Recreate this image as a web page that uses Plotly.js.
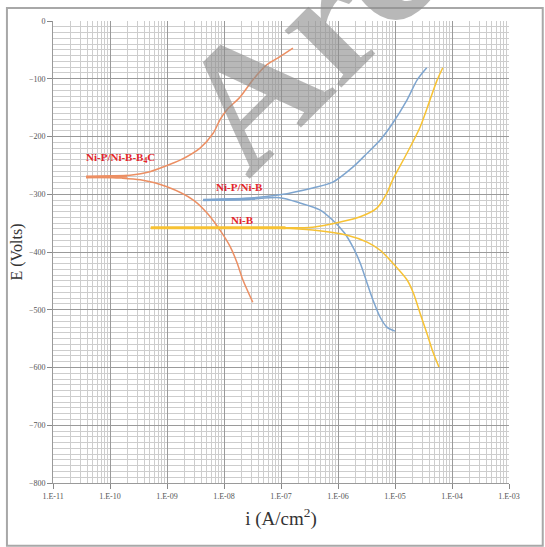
<!DOCTYPE html>
<html>
<head>
<meta charset="utf-8">
<script src="https://cdn.plot.ly/plotly-3.0.1.min.js"></script>
<style>html,body{margin:0;padding:0;background:#fff;}#chart{width:545px;height:547px;}</style>
</head>
<body>
<div id="chart"></div>
<script>
// ---- data (current in A/cm2, potential in mV) ----
const xTickVals = [1e-11, 1e-10, 1e-9, 1e-8, 1e-7, 1e-6, 1e-5, 1e-4, 1e-3];
const xTickText = ['1.E-11', '1.E-10', '1.E-09', '1.E-08', '1.E-07', '1.E-06', '1.E-05', '1.E-04', '1.E-03'];
const yTickVals = [0, -100, -200, -300, -400, -500, -600, -700, -800];

// Ni-P/Ni-B-B4C (orange)
const b4cRestI = [3.8e-11, 2.0e-10];
const b4cRestE = [-270, -269];
const b4cAnodI = [3.8e-11, 2.24e-10, 5.0e-10, 1.29e-9, 1.7e-9, 3.8e-9, 6.5e-9, 8.5e-9, 1.12e-8, 1.9e-8, 3.2e-8, 5.6e-8, 9.5e-8, 1.62e-7];
const b4cAnodE = [-270, -267, -261, -246, -241, -220, -194, -171, -154, -132, -102, -76, -62, -47];
const b4cCathI = [3.8e-11, 1.6e-10, 3.4e-10, 1.0e-9, 2.9e-9, 5.0e-9, 8.5e-9, 1.29e-8, 1.7e-8, 2.14e-8, 3.2e-8];
const b4cCathE = [-270, -272, -275, -287, -310, -332, -362, -391, -419, -448, -487];

// Ni-P/Ni-B (blue)
const npbRestI = [4.3e-9, 3.5e-8];
const npbRestE = [-310, -308];
const npbAnodI = [4.3e-9, 2.5e-8, 9.5e-8, 3.6e-7, 8.1e-7, 1.82e-6, 3.24e-6, 5.5e-6, 9.1e-6, 1.62e-5, 2.45e-5, 3.6e-5];
const npbAnodE = [-310, -307, -301, -289, -279, -253, -229, -206, -177, -137, -102, -81];
const npbCathI = [4.3e-9, 2.5e-8, 9.5e-8, 2.14e-7, 4.8e-7, 8.1e-7, 1.3e-6, 1.82e-6, 2.45e-6, 3.24e-6, 4.1e-6, 5.5e-6, 7.2e-6, 1.0e-5];
const npbCathE = [-310, -309, -306, -315, -327, -345, -367, -391, -419, -454, -483, -513, -530, -537];

// Ni-B (yellow)
const nbRestI = [5.2e-10, 1.2e-7];
const nbRestE = [-358, -358];
const nbAnodI = [5.2e-10, 9.5e-8, 3.6e-7, 1.1e-6, 2.45e-6, 4.8e-6, 7.2e-6, 9.1e-6, 1.62e-5, 2.75e-5, 4.1e-5, 5.5e-5, 6.9e-5];
const nbAnodE = [-358, -358, -357, -348, -339, -324, -298, -275, -229, -184, -137, -102, -81];
const nbCathI = [5.2e-10, 9.5e-8, 3.6e-7, 1.45e-6, 3.24e-6, 5.5e-6, 9.1e-6, 1.62e-5, 2.1e-5, 2.75e-5, 3.6e-5, 4.7e-5, 5.9e-5];
const nbCathE = [-358, -359, -362, -371, -383, -397, -419, -448, -471, -506, -540, -575, -599];

const labels = ['Ni-P/Ni-B-B<sub>4</sub>C', 'Ni-P/Ni-B', 'Ni-B'];
const labelI = [1.5e-10, 1.9e-8, 2.1e-8];
const labelE = [-237, -287, -345];

const cOrange = '#EC8F63';
const cBlue = '#7EA5CF';
const cYellow = '#F7C233';

function tr(x, y, color, w) {
  return {x: x, y: y, type: 'scatter', mode: 'lines',
    line: {color: color, width: w, shape: 'spline', smoothing: 0.8},
    hoverinfo: 'skip', showlegend: false};
}

const data = [
  tr(b4cAnodI, b4cAnodE, cOrange, 1.5),
  tr(b4cCathI, b4cCathE, cOrange, 1.5),
  tr(b4cRestI, b4cRestE, cOrange, 3),
  tr(npbAnodI, npbAnodE, cBlue, 1.5),
  tr(npbCathI, npbCathE, cBlue, 1.5),
  tr(npbRestI, npbRestE, cBlue, 2.5),
  tr(nbAnodI, nbAnodE, cYellow, 1.5),
  tr(nbCathI, nbCathE, cYellow, 1.5),
  tr(nbRestI, nbRestE, cYellow, 3.2)
];

const annotations = [{
  xref: 'paper', yref: 'paper', x: 0.553, y: 0.959, xanchor: 'center', yanchor: 'middle',
  text: '<b>Arc</b>', showarrow: false,
  textangle: -45, font: {family: 'Liberation Serif', size: 175, color: 'rgba(140,140,140,0.62)'}
}];
labels.forEach((t, k) => annotations.push({
  x: Math.log10(labelI[k]), y: labelE[k], xref: 'x', yref: 'y', text: '<b>' + t + '</b>',
  showarrow: false, font: {family: 'Liberation Serif', size: 11, color: '#E3262B'}
}));

const layout = {
  width: 545, height: 547,
  margin: {l: 53, r: 36, t: 21, b: 64},
  paper_bgcolor: '#ffffff', plot_bgcolor: '#ffffff',
  showlegend: false,
  xaxis: {
    type: 'log', range: [-11, -3],
    tickmode: 'array', tickvals: xTickVals, ticktext: xTickText,
    ticks: 'outside', ticklen: 5, tickcolor: '#888',
    tickfont: {family: 'Liberation Serif', size: 8, color: '#555'},
    showgrid: true, gridcolor: '#9a9a9a', gridwidth: 1,
    minor: {dtick: 'D1', showgrid: true, gridcolor: '#cdcdcd', gridwidth: 1, ticks: ''},
    showline: true, linecolor: '#9a9a9a', linewidth: 1,
    zeroline: false,
    title: {text: 'i (A/cm<sup>2</sup>)', font: {family: 'Liberation Serif', size: 19, color: '#333'}, standoff: 12}
  },
  yaxis: {
    range: [-800, 0],
    tickmode: 'array', tickvals: yTickVals,
    ticks: 'outside', ticklen: 5, tickcolor: '#888',
    tickfont: {family: 'Liberation Serif', size: 8, color: '#555'},
    showgrid: true, gridcolor: '#9a9a9a', gridwidth: 1,
    minor: {dtick: 10, showgrid: true, gridcolor: '#cdcdcd', gridwidth: 1, ticks: ''},
    showline: true, linecolor: '#9a9a9a', linewidth: 1,
    zeroline: false,
    title: {text: 'E (Volts)', font: {family: 'Liberation Serif', size: 16, color: '#333'}, standoff: 2}
  },
  annotations: annotations,
  shapes: [{
    type: 'rect', xref: 'paper', yref: 'paper', x0: -0.101, x1: 1.074, y0: -0.136, y1: 1.028,
    line: {color: '#a8a8a8', width: 2}, fillcolor: 'rgba(0,0,0,0)', layer: 'below'
  }]
};

Plotly.newPlot('chart', data, layout, {displayModeBar: false, staticPlot: true});
</script>
</body>
</html>
